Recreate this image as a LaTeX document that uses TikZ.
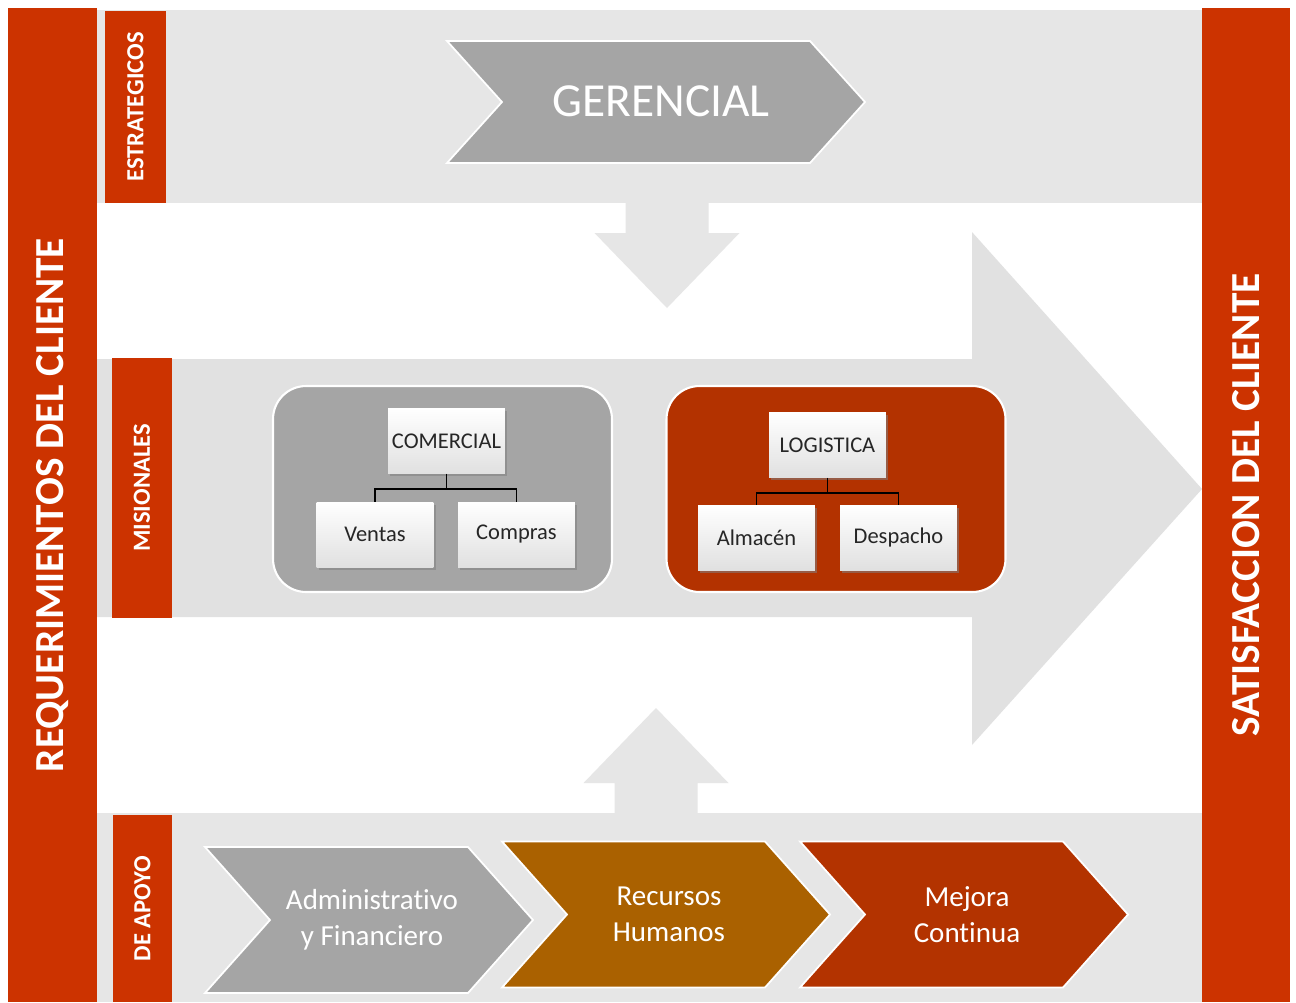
\documentclass[tikz,border=0pt]{standalone}
\usepackage{fontspec}
\setmainfont[Ligatures={NoCommon}]{Carlito}
\usetikzlibrary{shadows}

\definecolor{clientred}{HTML}{CC3300}
\definecolor{bandgray}{HTML}{E6E6E6}
\definecolor{arrowgray}{HTML}{E1E1E1}
\definecolor{chevgray}{HTML}{A5A5A5}
\definecolor{logred}{HTML}{B33200}
\definecolor{rrhhbrown}{HTML}{AA6100}
\definecolor{mejorared}{HTML}{B33300}

\tikzset{
  sidebar/.style={fill=clientred, text=white, rotate=90, inner sep=0pt,
    font=\bfseries\fontsize{23.5}{28}\selectfont},
  typelabel/.style={fill=clientred, text=white, rotate=90, inner sep=0pt,
    font=\bfseries\fontsize{14}{17}\selectfont},
  chev/.style={draw=white, line width=1pt},
  chevtext/.style={text=white, align=center, font=\fontsize{16.5}{20.5}\selectfont},
  groupbox/.style={draw=white, line width=1.2pt, rounded corners=0.66cm,
    minimum width=6.78cm, minimum height=4.12cm},
  unitbox/.style={top color=white, bottom color=black!12, inner sep=0pt,
    minimum width=2.34cm, minimum height=1.3cm, text=black!85,
    font=\fontsize{12.8}{15}\selectfont,
    drop shadow={shadow xshift=1.2pt, shadow yshift=-1.5pt, opacity=0.55}}
}

\begin{document}
\begin{tikzpicture}[x=0.02cm, y=-0.02cm]
  \useasboundingbox[fill=white] (0,0) rectangle (1296,1002);

  % Draw bands
  \fill[bandgray] (97,10) rectangle (1202,203);
  \fill[bandgray] (97,813) rectangle (1202,1002);

  % Big arrow through the missional band
  \fill[arrowgray] (97,359) -- (972,359) -- (972,232) -- (1202,489)
    -- (972,745) -- (972,617) -- (97,617) -- cycle;

  % Down and up arrows
  \fill[bandgray] (625.5,200) -- (708.5,200) -- (708.5,233) -- (739.5,233)
    -- (667,308) -- (594.5,233) -- (625.5,233) -- cycle;
  \fill[bandgray] (614.5,816) -- (697.5,816) -- (697.5,783) -- (728.5,783)
    -- (656,708) -- (583.5,783) -- (614.5,783) -- cycle;

  % Side bars
  \node[sidebar, minimum width=19.88cm, minimum height=1.78cm] (req) at (52.5,505)
    {REQUERIMIENTOS DEL CLIENTE};
  \node[sidebar, minimum width=19.88cm, minimum height=1.76cm] (sat) at (1246,505)
    {SATISFACCION DEL CLIENTE};

  % Process type labels
  \node[typelabel, minimum width=3.84cm, minimum height=1.22cm] (estr) at (135.5,107) {ESTRATEGICOS};
  \node[typelabel, minimum width=5.2cm, minimum height=1.2cm] (mis) at (142,488) {MISIONALES};
  \node[typelabel, minimum width=3.74cm, minimum height=1.18cm] (apo) at (142.5,908.5) {DE APOYO};

  % Gerencial chevron
  \filldraw[chev, fill=chevgray] (447,41) -- (810,41) -- (865,102) -- (810,163)
    -- (447,163) -- (502,102) -- cycle;
  \node[text=white, font=\fontsize{27}{32}\selectfont] (ger) at (661,101) {GERENCIAL};

  % Support chevrons
  \foreach \x/\y/\col/\nm/\txt in {205/920/chevgray/adm/{Administrativo\\y Financiero},
      502/914.5/rrhhbrown/rrhh/{Recursos\\Humanos},
      800/914.5/mejorared/mej/{Mejora\\Continua}} {
    \filldraw[chev, fill=\col] (\x,\y) ++(0,-73) -- ++(263,0) -- ++(65,73)
      -- ++(-65,73) -- ++(-263,0) -- ++(65,-73) -- cycle;
    \node[chevtext] (\nm) at ({\x+167},\y) {\txt};
  }

  % Missional groups
  \node[groupbox, fill=chevgray] (grpcom) at (442.5,489) {};
  \node[groupbox, fill=logred] (grplog) at (836,489) {};

  \node[unitbox] (com) at (446.5,441) {COMERCIAL};
  \node[unitbox] (ven) at (375,534.5) {Ventas};
  \node[unitbox] (cpr) at (516.5,534.5) {Compras};
  \node[unitbox] (log) at (827.5,445) {LOGISTICA};
  \node[unitbox] (alm) at (756.5,537.5) {Almacén};
  \node[unitbox] (des) at (898.5,537.5) {Despacho};

  % Org links
  \foreach \p/\c in {com/ven, com/cpr, log/alm, log/des}
    \draw[line width=1.1pt] (\p.south) -- ++(0,15) -| (\c.north);
\end{tikzpicture}
\end{document}
